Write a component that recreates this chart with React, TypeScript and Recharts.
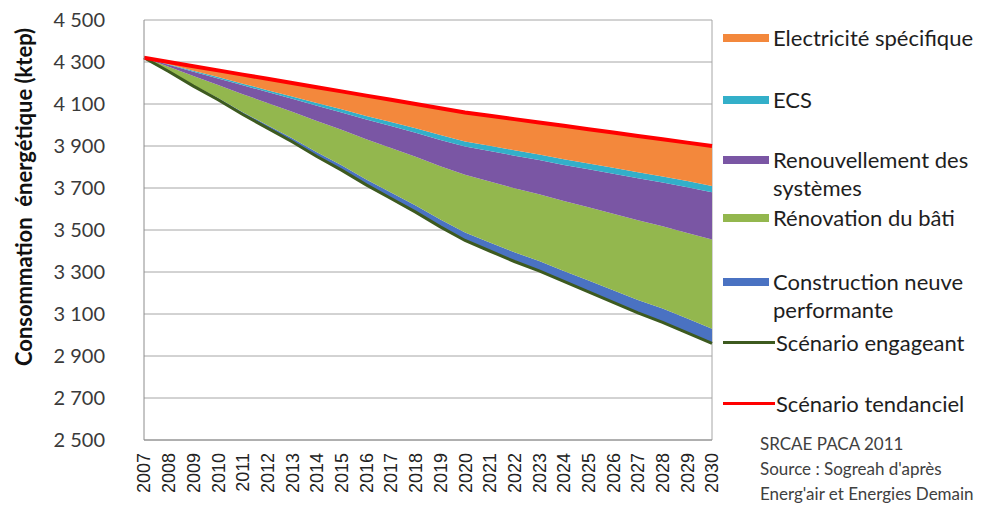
import React from 'react';
import { ComposedChart, Area, Line, XAxis, YAxis, CartesianGrid } from 'recharts';

// Consommation du secteur résidentiel, scénarios 2007-2030 (ktep)
const years = [
  '2007', '2008', '2009', '2010', '2011', '2012', '2013', '2014', '2015', '2016', '2017', '2018',
  '2019', '2020', '2021', '2022', '2023', '2024', '2025', '2026', '2027', '2028', '2029', '2030',
];

const scenarioEngageant = [
  4320, 4255, 4185, 4120, 4050, 3985, 3920, 3850, 3785, 3715, 3650, 3585,
  3515, 3450, 3400, 3350, 3305, 3255, 3205, 3155, 3105, 3060, 3010, 2960,
];

// gisements d'économie empilés au-dessus du scénario engageant
const constructionNeuve = [0, 2, 5, 8, 11, 14, 17, 20, 23, 26, 29, 32, 35, 38, 41, 44, 47, 50, 54, 58, 62, 66, 68, 70];
const renovationBati = [0, 20, 43, 63, 86, 106, 126, 149, 169, 191, 212, 232, 254, 275, 290, 305, 318, 333, 349, 364, 379, 392, 408, 425];
const renouvellementSystemes = [0, 10, 21, 31, 42, 52, 62, 73, 83, 94, 104, 114, 125, 135, 145, 155, 163, 172, 181, 191, 200, 208, 217, 225];
const ecs = [0, 2, 4, 6, 8, 9, 11, 13, 15, 17, 19, 21, 23, 24, 25, 26, 27, 27, 28, 28, 29, 29, 30, 30];
const electriciteSpecifique = [0, 11, 22, 32, 43, 54, 64, 75, 85, 97, 106, 116, 128, 138, 143, 148, 152, 159, 163, 168, 173, 177, 183, 190];

const scenarioTendanciel = [
  4320, 4300, 4280, 4260, 4240, 4220, 4200, 4180, 4160, 4140, 4120, 4100,
  4080, 4060, 4044, 4028, 4012, 3996, 3980, 3964, 3948, 3932, 3916, 3900,
];

const yTicks = [2500, 2700, 2900, 3100, 3300, 3500, 3700, 3900, 4100, 4300, 4500];

const data = years.map((year, i) => ({
  year,
  engageant: scenarioEngageant[i],
  construction: constructionNeuve[i],
  renovation: renovationBati[i],
  renouvellement: renouvellementSystemes[i],
  ecs: ecs[i],
  elec: electriciteSpecifique[i],
  tendanciel: scenarioTendanciel[i],
}));

const COLORS = {
  elec: '#F3883C',
  ecs: '#33AFC9',
  renouvellement: '#7A56A4',
  renovation: '#93B74E',
  construction: '#4A72C2',
  engageant: '#3D5A1F',
  tendanciel: '#FF0000',
};

const stacked = [
  { key: 'construction', name: 'Construction neuve performante' },
  { key: 'renovation', name: 'Rénovation du bâti' },
  { key: 'renouvellement', name: 'Renouvellement des systèmes' },
  { key: 'ecs', name: 'ECS' },
  { key: 'elec', name: 'Electricité spécifique' },
];

const legendItems = [
  { color: COLORS.elec, kind: 'area', lines: ['Electricité spécifique'], top: 38 },
  { color: COLORS.ecs, kind: 'area', lines: ['ECS'], top: 100 },
  { color: COLORS.renouvellement, kind: 'area', lines: ['Renouvellement des', 'systèmes'], top: 160 },
  { color: COLORS.renovation, kind: 'area', lines: ['Rénovation du bâti'], top: 218 },
  { color: COLORS.construction, kind: 'area', lines: ['Construction neuve', 'performante'], top: 282 },
  { color: COLORS.engageant, kind: 'line', lines: ['Scénario engageant'], top: 343 },
  { color: COLORS.tendanciel, kind: 'line', lines: ['Scénario tendanciel'], top: 404 },
];

const sourceLines = ['SRCAE PACA 2011', "Source : Sogreah d'après", "Energ'air et Energies Demain"];

const fmt = (v: number) => `${Math.floor(v / 1000)} ${String(v % 1000).padStart(3, '0')}`;

const YTick = ({ x, y, payload }: any) => (
  <text x={x} y={y} dy="0.36em" textAnchor="end" fill="#3a3a3a" fontSize={20} fontFamily="Lato">
    {fmt(payload.value)}
  </text>
);

const XTick = ({ x, y, payload }: any) => (
  <text
    x={x}
    y={y + 13}
    dy="0.36em"
    textAnchor="end"
    fill="#222"
    fontSize={18}
    fontFamily="Liberation Sans"
    transform={`rotate(-90, ${x}, ${y + 13})`}
  >
    {payload.value}
  </text>
);

const YTitle = ({ viewBox }: any) => {
  const cx = 24;
  const cy = viewBox.y + viewBox.height / 2 - 33;
  return (
    <text
      x={cx}
      y={cy}
      dy="0.36em"
      textAnchor="middle"
      fontSize={22}
      fontWeight="bold"
      fontFamily="Lato"
      fill="#111"
      style={{ whiteSpace: 'pre' }}
      transform={`rotate(-90, ${cx}, ${cy})`}
    >
      {'Consommation  énergétique (ktep)'}
    </text>
  );
};

const ChartLegend = () => (
  <div style={{ position: 'absolute', left: 0, top: 0, width: 982, height: 505, pointerEvents: 'none' }}>
    {legendItems.map((item) => (
      <div key={item.lines[0]} style={{ position: 'absolute', left: 723, top: item.top - 14 }}>
        {item.kind === 'area' ? (
          <div style={{ position: 'absolute', left: 0, top: 10, width: 46, height: 8, background: item.color }} />
        ) : (
          <div style={{ position: 'absolute', left: 0, top: 12, width: 52, height: 3, background: item.color }} />
        )}
        {item.lines.map((t) => (
          <div
            key={t}
            style={{
              marginLeft: item.kind === 'area' ? 50 : 53,
              fontFamily: 'Lato',
              fontSize: 22,
              lineHeight: '28px',
              color: '#1e1e1e',
              whiteSpace: 'nowrap',
            }}
          >
            {t}
          </div>
        ))}
      </div>
    ))}
    <div style={{ position: 'absolute', left: 760, top: 431, fontFamily: 'Lato', fontSize: 17, lineHeight: '25px', color: '#404040', whiteSpace: 'nowrap' }}>
      {sourceLines.map((t) => (
        <div key={t}>{t}</div>
      ))}
    </div>
  </div>
);

export default function App() {
  return (
    <div style={{ position: 'absolute', left: 0, top: 0, width: 982, height: 505, background: '#fff', overflow: 'hidden' }}>
      <ComposedChart width={982} height={505} data={data} margin={{ top: 20, right: 270, bottom: 0, left: 0 }}>
        <CartesianGrid
          stroke="#a6a6a6"
          strokeWidth={1}
          horizontal
          vertical
          verticalCoordinatesGenerator={({ offset }: any) => [offset.left + offset.width]}
        />
        <XAxis
          dataKey="year"
          scale="point"
          interval={0}
          height={65}
          tickSize={0}
          tickMargin={0}
          tick={<XTick />}
          axisLine={{ stroke: '#8c8c8c' }}
          tickLine={false}
        />
        <YAxis
          type="number"
          domain={[2500, 4500]}
          ticks={yTicks}
          allowDataOverflow
          width={144}
          tickSize={0}
          tickMargin={39}
          tick={<YTick />}
          axisLine={{ stroke: '#8c8c8c' }}
          tickLine={false}
          label={<YTitle />}
        />
        <Area
          dataKey="engageant"
          stackId="s"
          stroke="none"
          fill="none"
          isAnimationActive={false}
          legendType="none"
        />
        {stacked.map((s) => (
          <Area
            key={s.key}
            dataKey={s.key}
            name={s.name}
            stackId="s"
            type="linear"
            stroke="none"
            fill={COLORS[s.key as keyof typeof COLORS]}
            fillOpacity={1}
            isAnimationActive={false}
          />
        ))}
        <Line
          dataKey="engageant"
          name="Scénario engageant"
          type="linear"
          stroke={COLORS.engageant}
          strokeWidth={3}
          dot={false}
          isAnimationActive={false}
        />
        <Line
          dataKey="tendanciel"
          name="Scénario tendanciel"
          type="linear"
          stroke={COLORS.tendanciel}
          strokeWidth={4}
          dot={false}
          isAnimationActive={false}
        />
      </ComposedChart>
      <ChartLegend />
    </div>
  );
}
